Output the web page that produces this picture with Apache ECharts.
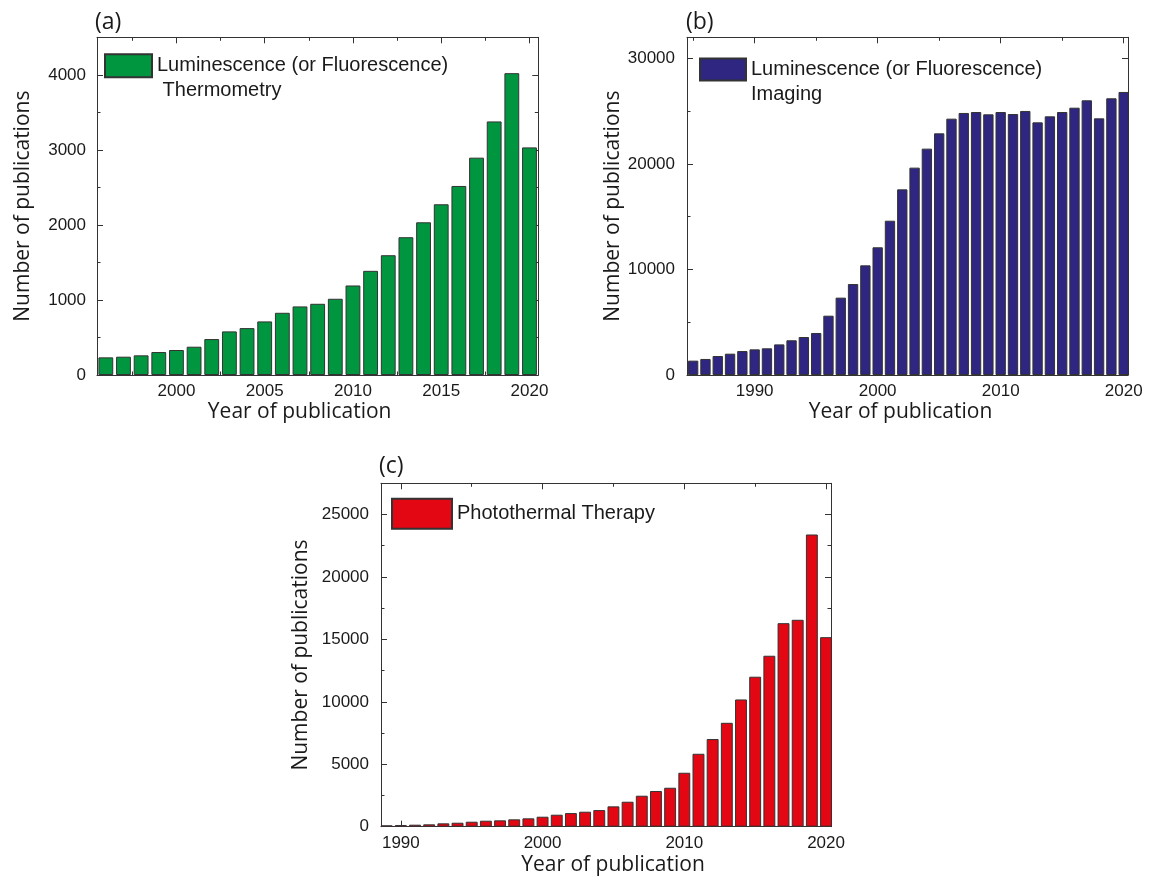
<!DOCTYPE html>
<html><head><meta charset="utf-8">
<script src="https://cdn.jsdelivr.net/npm/echarts@6/dist/echarts.min.js"></script>
<style>html,body{margin:0;padding:0;background:#fff}#c{width:1155px;height:877px}</style>
</head><body><div id="c"></div>
<script>
// ---- Panel (a): Luminescence thermometry ----
const yearsA = [1996,1997,1998,1999,2000,2001,2002,2003,2004,2005,2006,2007,2008,2009,2010,2011,2012,2013,2014,2015,2016,2017,2018,2019,2020];
const valuesA = [235,244,262,306,333,377,479,581,625,714,829,914,949,1016,1193,1388,1596,1836,2035,2275,2519,2896,3379,4022,3033];
const xMajorA = [2000,2005,2010,2015,2020];
const xMinorA = [1997.5,2002.5,2007.5,2012.5,2017.5];
const yMajorA = [0,1000,2000,3000,4000];
const yMinorA = [500,1500,2500,3500];

// ---- Panel (b): Luminescence imaging ----
const yearsB = [1985,1986,1987,1988,1989,1990,1991,1992,1993,1994,1995,1996,1997,1998,1999,2000,2001,2002,2003,2004,2005,2006,2007,2008,2009,2010,2011,2012,2013,2014,2015,2016,2017,2018,2019,2020];
const valuesB = [1360,1520,1800,2020,2270,2430,2530,2900,3290,3600,3980,5620,7330,8620,10390,12100,14620,17590,19650,21450,22900,24290,24830,24920,24700,24920,24730,25020,23940,24510,24920,25330,26030,24320,26220,26820];
const xMajorB = [1990,2000,2010,2020];
const xMinorB = [1985,1995,2005,2015];
const yMajorB = [0,10000,20000,30000];
const yMinorB = [5000,15000,25000];

// ---- Panel (c): Photothermal therapy ----
const yearsC = [1989,1990,1991,1992,1993,1994,1995,1996,1997,1998,1999,2000,2001,2002,2003,2004,2005,2006,2007,2008,2009,2010,2011,2012,2013,2014,2015,2016,2017,2018,2019,2020];
const valuesC = [110,130,160,190,270,320,400,480,510,590,670,800,960,1090,1200,1330,1630,2000,2480,2860,3120,4320,5840,7020,8320,10190,12010,13690,16300,16570,23400,15180];
const xMajorC = [1990,2000,2010,2020];
const xMinorC = [1995,2005,2015];
const yMajorC = [0,5000,10000,15000,20000,25000];
const yMinorC = [2500,7500,12500,17500,22500];

const nameA = 'Luminescence (or Fluorescence)\n Thermometry';
const nameB = 'Luminescence (or Fluorescence)\nImaging';
const nameC = 'Photothermal Therapy';

const panels = [
  {grid:{left:97,top:37.3,width:441.3,height:337.7}, xMin:1995.5, xMax:2020.5, yMax:4500,
   years:yearsA, values:valuesA, xMaj:xMajorA, xMin2:xMinorA, yMaj:yMajorA, yMin2:yMinorA,
   color:'#009640', name:nameA, yLabMargin:11, yNameGap:63, xNamePad:[0,36,0,0], xNameGap:27},
  {grid:{left:687,top:37.3,width:441,height:337.7}, xMin:1984.5, xMax:2020.35, yMax:32000,
   years:yearsB, values:valuesB, xMaj:xMajorB, xMin2:xMinorB, yMaj:yMajorB, yMin2:yMinorB,
   color:'#2e2680', name:nameB, yLabMargin:12, yNameGap:63, xNamePad:[0,14,0,0], xNameGap:27},
  {grid:{left:381,top:483.3,width:450,height:343.4}, xMin:1988.6, xMax:2020.35, yMax:27500,
   years:yearsC, values:valuesC, xMaj:xMajorC, xMin2:xMinorC, yMaj:yMajorC, yMin2:yMinorC,
   color:'#e30613', name:nameC, yLabMargin:12, yNameGap:69, xNamePad:[0,0,0,14], xNameGap:28}
];

const FRAME = '#333';
const TXT = '#1a1a1a';
const plain = v => String(v);
const labelStyle = {fontFamily:'Liberation Sans', fontSize:17, color:TXT, formatter:plain};
const nameStyle = {fontFamily:'Open Sans', fontSize:21, color:TXT};

const grids = [], xAxes = [], yAxes = [], series = [];
panels.forEach((p, gi) => {
  grids.push(Object.assign({containLabel:false}, p.grid));
  const xBase = {type:'value', gridIndex:gi, min:p.xMin, max:p.xMax, splitLine:{show:false}};
  const yBase = {type:'value', gridIndex:gi, min:0, max:p.yMax, splitLine:{show:false}};
  const mainX = xAxes.length;
  xAxes.push(Object.assign({}, xBase, {position:'bottom',
    axisLine:{show:true, onZero:false, lineStyle:{color:FRAME, width:1}},
    axisTick:{show:true, inside:true, length:6, customValues:p.xMaj, lineStyle:{color:FRAME}},
    axisLabel:Object.assign({show:true, customValues:p.xMaj, margin:8}, labelStyle),
    name:'Year of publication', nameLocation:'middle', nameGap:p.xNameGap,
    nameTextStyle:Object.assign({padding:p.xNamePad}, nameStyle)}));
  xAxes.push(Object.assign({}, xBase, {position:'bottom', axisLine:{show:false, onZero:false},
    axisTick:{show:true, inside:true, length:3.5, customValues:p.xMin2, lineStyle:{color:FRAME}},
    axisLabel:{show:false}}));
  xAxes.push(Object.assign({}, xBase, {position:'top',
    axisLine:{show:true, onZero:false, lineStyle:{color:FRAME, width:1}},
    axisTick:{show:true, inside:true, length:6, customValues:p.xMaj, lineStyle:{color:FRAME}},
    axisLabel:{show:false}}));
  xAxes.push(Object.assign({}, xBase, {position:'top', axisLine:{show:false, onZero:false},
    axisTick:{show:true, inside:true, length:3.5, customValues:p.xMin2, lineStyle:{color:FRAME}},
    axisLabel:{show:false}}));
  const mainY = yAxes.length;
  yAxes.push(Object.assign({}, yBase, {position:'left',
    axisLine:{show:true, onZero:false, lineStyle:{color:FRAME, width:1}},
    axisTick:{show:true, inside:true, length:6, customValues:p.yMaj, lineStyle:{color:FRAME}},
    axisLabel:Object.assign({show:true, customValues:p.yMaj, margin:p.yLabMargin}, labelStyle),
    name:'Number of publications', nameLocation:'middle', nameGap:p.yNameGap, nameRotate:90,
    nameTextStyle:nameStyle}));
  yAxes.push(Object.assign({}, yBase, {position:'left', axisLine:{show:false, onZero:false},
    axisTick:{show:true, inside:true, length:3.5, customValues:p.yMin2, lineStyle:{color:FRAME}},
    axisLabel:{show:false}}));
  yAxes.push(Object.assign({}, yBase, {position:'right',
    axisLine:{show:true, onZero:false, lineStyle:{color:FRAME, width:1}},
    axisTick:{show:true, inside:true, length:6, customValues:p.yMaj, lineStyle:{color:FRAME}},
    axisLabel:{show:false}}));
  yAxes.push(Object.assign({}, yBase, {position:'right', axisLine:{show:false, onZero:false},
    axisTick:{show:true, inside:true, length:3.5, customValues:p.yMin2, lineStyle:{color:FRAME}},
    axisLabel:{show:false}}));
  const barW = 0.84 * p.grid.width / (p.xMax - p.xMin);
  series.push({type:'bar', name:p.name, xAxisIndex:mainX, yAxisIndex:mainY,
    barWidth:barW, clip:true,
    itemStyle:{color:p.color, borderColor:'#333', borderWidth:1},
    data:p.years.map((y,i)=>[y, p.values[i]])});
});

const legendText = {fontFamily:'Liberation Sans', fontSize:20, color:TXT};
const titleStyle = {fontFamily:'Open Sans', fontSize:23, fontWeight:'normal', color:TXT};
const option = {
  animation:false,
  backgroundColor:'#fff',
  title:[
    {text:'(a)', left:95, top:11, padding:0, textStyle:titleStyle},
    {text:'(b)', left:686, top:11, padding:0, textStyle:titleStyle},
    {text:'(c)', left:379, top:455, padding:0, textStyle:titleStyle}
  ],
  legend:[
    {data:[nameA], left:104, top:28.3, padding:0, icon:'rect', itemWidth:47, itemHeight:23, selectedMode:false,
     formatter:n => '\n' + n, textStyle:Object.assign({lineHeight:25}, legendText)},
    {data:[nameB], left:699, top:32, padding:0, icon:'rect', itemWidth:46, itemHeight:22, selectedMode:false,
     formatter:n => '\n' + n, textStyle:Object.assign({lineHeight:25}, legendText)},
    {data:[nameC], left:391, top:497.7, padding:0, icon:'rect', itemWidth:60, itemHeight:30, selectedMode:false,
     textStyle:legendText}
  ],
  grid:grids, xAxis:xAxes, yAxis:yAxes, series:series
};
const chart = echarts.init(document.getElementById('c'), null, {renderer:'canvas'});
chart.setOption(option);
</script></body></html>
